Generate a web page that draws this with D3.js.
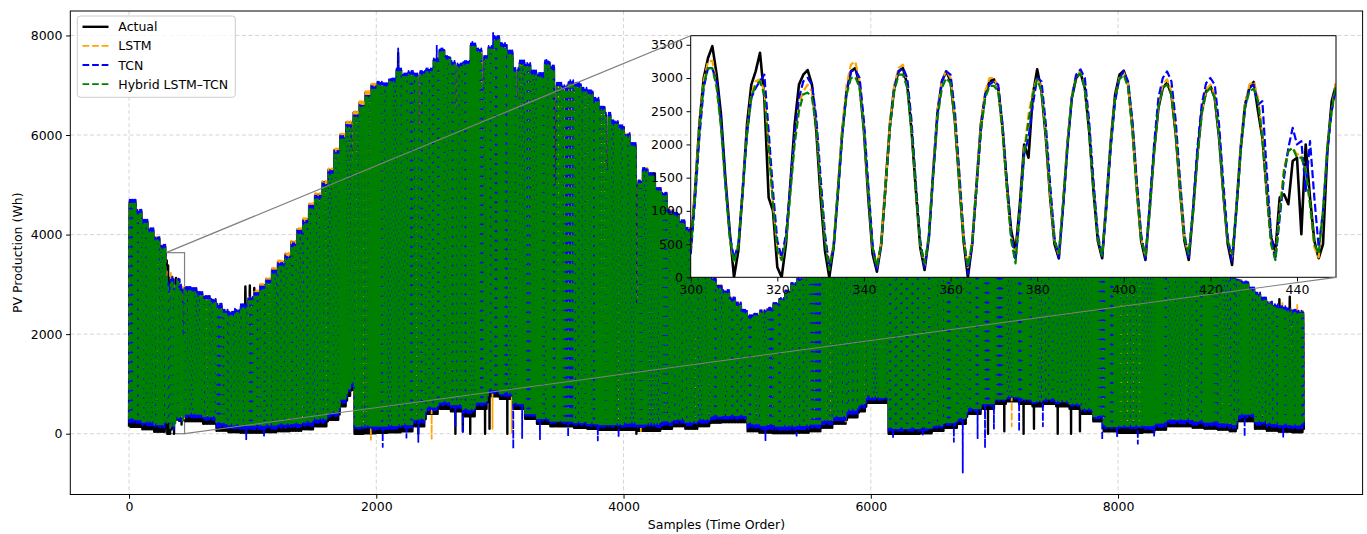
<!DOCTYPE html>
<html><head><meta charset="utf-8">
<script src="https://cdn.jsdelivr.net/npm/d3@7"></script>
<style>
body{margin:0;background:#fff}
svg{display:block}
text{font-family:"DejaVu Sans",sans-serif;fill:#000}
</style>
</head><body>
<svg id="c" width="1367" height="534"></svg>
<script>
// ---------------- DATA ----------------
const seriesNames = ["Actual", "LSTM", "TCN", "Hybrid LSTM\u2013TCN"];
const xTicks = [0, 2000, 4000, 6000, 8000];
const yTicks = [0, 2000, 4000, 6000, 8000];
const insetXTicks = [300, 320, 340, 360, 380, 400, 420, 440];
const insetYTicks = [0, 500, 1000, 1500, 2000, 2500, 3000, 3500];

const nSamples = 9504;
const dayLength = 12;
// normalised shape of one day
const dayShape = [0, 0.2, 0.5, 0.78, 0.95, 1.0, 0.96, 0.82, 0.6, 0.35, 0.13, 0.02];

// daily peak of Actual: [sample from which it holds, value]
const peakActualAt = [[0,4650],[50,4450],[100,4250],[150,4080],[200,3920],[250,3750],[300,3500],[350,3200],
 [400,2980],[450,2900],[500,2880],[550,2800],[600,2720],[650,2660],[700,2560],[750,2440],[800,2400],[850,2460],
 [900,2550],[950,2700],[1000,2850],[1050,2980],[1100,3100],[1150,3300],[1200,3450],[1250,3600],[1300,3850],
 [1350,4100],[1400,4300],[1450,4600],[1500,4800],[1550,5050],[1600,5300],[1650,5700],[1700,6000],[1750,6250],
 [1800,6450],[1850,6650],[1900,6850],[1950,7000],[2000,7030],[2050,7000],[2100,7100],[2150,7300],[2200,7200],
 [2250,7250],[2300,7200],[2350,7250],[2400,7300],[2450,7500],[2500,7700],[2550,7550],[2600,7450],[2650,7400],
 [2700,7450],[2750,7800],[2800,7700],[2850,7550],[2900,7750],[2950,7950],[3000,7800],[3050,7650],[3100,7300],
 [3150,7450],[3200,7400],[3250,7250],[3300,7200],[3350,7450],[3400,7350],[3450,7000],[3500,6950],[3550,7050],
 [3600,7000],[3650,6900],[3700,6850],[3750,6700],[3800,6550],[3850,6400],[3900,6250],[3950,6150],[4000,6000],
 [4050,5800],[4100,5050],[4150,5300],[4200,5200],[4250,4900],[4300,4800],[4350,4450],[4400,4400],[4450,4250],
 [4500,4100],[4550,3800],[4600,3450],[4650,3250],[4700,3100],[4750,2950],[4800,2850],[4850,2700],[4900,2600],
 [4950,2450],[5000,2350],[5050,2380],[5100,2450],[5150,2500],[5200,2600],[5250,2700],[5300,2850],[5350,3000],
 [5400,3100],[5450,3300],[5500,3500],[5600,4000],[5800,5000],[6000,6000],[6200,6700],[6400,7000],[6600,7200],
 [6800,7000],[7000,6800],[7200,6500],[7400,6100],[7600,5600],[7800,5000],[8000,4400],[8200,3900],[8400,3550],
 [8600,3350],[8700,3250],[8800,3200],[8850,3180],[8900,3120],[8950,3080],[9000,3020],[9050,2900],[9100,2800],
 [9150,2700],[9200,2620],[9250,2560],[9300,2520],[9350,2480],[9400,2450],[9450,2430],[9500,2420]];
// peak offsets of each model against Actual, by stretch of samples
const offS = [0, 1000, 2000, 3000, 4000, 5000, 6000, 7000, 8000, 9000];
const peakOffLSTM = [40, 30, -10, -20, 40, 30, 0, 0, 20, 30];
const peakOffTCN = [50, -20, 40, 50, 40, 30, 0, 0, 20, 40];
const peakOffHybrid = [-30, -90, -30, -40, -30, -20, -20, -20, -20, -20];

// daily trough of Actual: [sample from which it holds, value]
const lowActualAt = [[0,140],[100,90],[200,40],[300,10],[400,250],[500,250],[600,200],[700,60],[800,30],[900,20],
 [1000,20],[1100,30],[1200,50],[1300,60],[1400,90],[1500,150],[1600,280],[1700,550],[1760,760],[1790,880],
 [1815,0],[1900,10],[2000,20],[2100,30],[2200,50],[2300,150],[2400,400],[2500,500],[2600,450],[2700,350],
 [2800,500],[2900,750],[3000,700],[3100,500],[3200,300],[3300,200],[3400,150],[3500,150],[3600,120],[3700,100],
 [3800,80],[3900,80],[4000,80],[4100,60],[4200,60],[4300,100],[4400,150],[4500,100],[4600,150],[4700,220],
 [4800,230],[4900,230],[5000,50],[5100,20],[5200,10],[5300,10],[5400,20],[5500,50],[5600,120],[5700,200],
 [5800,330],[5900,450],[5960,620],[6135,0],[6400,10],[6500,60],[6600,120],[6700,200],[6780,400],[6900,500],
 [7000,600],[7100,650],[7200,600],[7300,550],[7400,600],[7500,550],[7600,500],[7700,400],[7800,250],[7880,50],
 [8000,20],[8200,30],[8300,80],[8400,150],[8600,120],[8700,100],[8800,80],[8900,50],[8960,250],[9100,100],
 [9200,60],[9300,40],[9400,30],[9500,20]];
// trough offsets of each model against Actual
const lowOffLSTM = [170, 170, 160, 120, 160, 170, 130, 120, 160, 170];
const lowOffTCN = [80, 70, 70, 60, 70, 70, 60, 60, 60, 80];
const lowOffHybrid = [150, 150, 140, 110, 140, 150, 110, 100, 140, 150];

// days with a clearly different peak: [sample, actual peak, predicted peak]
const cloudyDays = [[2340,5900,6200],[2650,6300,6500],[2860,6750,6900],[3135,6550,6700],
 [3445,4350,5000],[3865,4950,5300],[4105,5000,2600],[1810,5200,5600],[6140,5500,5200]];
// isolated high peaks: [sample, value]
const spikesActual = [[940,2960],[980,2980],[1010,2930],[2177,7650],[9310,2700],[9390,2750]];
const spikesLSTM = [[9330,2650],[9450,2600]];
const spikesTCN = [[2177,7740],[2492,7810],[2772,7870],[2945,8050],[3160,7500],[3375,7510]];
// isolated low troughs: [sample, value]
const dipsActual = [[2350,0],[2640,0],[2700,50],[2760,0],[2880,0],[2920,100],[3060,0],[4105,0],
 [6950,0],[7080,50],[7240,0],[7330,100],[7520,0],[7620,0],[7700,50]];
const dipsLSTM = [[1965,-120],[2450,-100],[2950,100],[3100,0],[4150,50],[5800,200],[7150,150]];
const dipsTCN = [[954,-110],[1100,-40],[2055,-265],[2250,-80],[2340,-165],[2650,150],[2700,0],[3115,-300],
 [3190,-100],[3333,-110],[3560,-60],[3800,-135],[3960,-80],[5150,-130],[5400,-40],[6190,-90],[6420,-60],
 [6680,-164],[6747,-780],[6875,-90],[6925,-290],[7000,100],[7200,50],[7400,150],[7880,-130],[8000,-50],
 [8165,-200],[8300,-40],[9027,-60],[9340,-60]];

// zoomed window, samples 300..449
const insetStart = 300;
const insetActual = [450,1300,2300,3000,3300,3480,3050,2450,1500,700,0,
 400,1300,2300,2900,3100,3380,2700,1200,1000,150,0,
 500,1400,2300,2900,3050,3120,2900,2200,1200,400,0,
 450,1300,2200,2800,3100,3150,2900,2200,1200,350,85,
 500,1400,2300,2850,3100,3150,2900,2200,1300,450,110,
 600,1600,2500,2950,3100,2950,2350,1450,550,0,
 500,1400,2300,2750,2950,2980,2850,2250,1400,700,390,
 1100,2000,1800,2750,3130,2800,2100,1200,500,286,
 1100,2000,2700,3000,3080,2850,2200,1300,550,286,
 1150,2050,2750,3050,3110,2900,2250,1350,550,261,
 1050,1900,2550,2850,2930,2750,2150,1300,550,261,
 1000,1850,2500,2800,2880,2700,2100,1250,500,186,
 1050,1950,2600,2850,2940,2500,2100,1300,600,385,
 1200,1250,1100,1750,1800,650,2000,1200,550,286,500,1900,2650,2900];
const insetLSTM = [400,1250,2250,2950,3250,3260,2900,2250,1400,600,250,
 500,1350,2200,2750,2950,2980,2800,2000,1100,450,250,
 600,1300,2100,2600,2800,2900,2800,2300,1400,600,200,
 500,1350,2250,2900,3200,3250,2950,2250,1300,450,150,
 550,1400,2300,2900,3150,3200,2950,2250,1350,500,180,
 650,1600,2500,2950,3120,3000,2400,1500,600,150,
 550,1400,2250,2800,3000,3000,2850,2200,1350,600,300,
 1000,1900,2450,2800,3000,2850,2150,1250,550,330,
 1150,2050,2750,3050,3100,2900,2250,1350,600,330,
 1100,2000,2700,3000,3080,2900,2250,1350,600,320,
 1050,1950,2600,2900,2980,2800,2200,1350,600,320,
 1000,1850,2500,2820,2900,2750,2150,1300,550,300,
 1050,1950,2600,2900,2950,2700,2150,1300,550,280,
 1000,1650,1900,1950,1850,1850,1600,1100,450,300,1000,2000,2500,2950];
const insetTCN = [350,1150,2100,2850,3150,3140,2950,2350,1450,650,280,
 500,1300,2150,2700,2850,2950,3050,2200,1300,550,300,
 650,1350,2150,2700,2950,3000,2900,2400,1500,650,150,
 450,1250,2150,2800,3100,3120,3000,2350,1400,500,120,
 500,1350,2250,2850,3100,3150,3000,2350,1400,550,150,
 600,1550,2450,2950,3100,3050,2500,1600,650,50,
 500,1350,2200,2750,2900,2950,2900,2300,1450,650,250,
 950,1850,2100,2600,3000,2950,2300,1400,600,300,
 1050,1950,2700,3050,3130,3000,2350,1450,650,300,
 1050,1950,2650,3000,3100,2950,2350,1450,650,280,
 1100,2000,2700,3000,3100,2950,2350,1450,650,280,
 1050,1950,2600,2920,3000,2900,2300,1400,600,250,
 1000,1900,2550,2850,2900,2600,2650,1600,650,260,
 900,1500,1950,2250,2000,2050,1300,2050,1200,450,1000,1900,2500,2850];
const insetHybrid = [420,1200,2200,2900,3150,3150,2850,2250,1400,600,220,
 480,1300,2150,2700,2900,2950,2750,1950,1100,400,260,
 550,1250,2000,2500,2750,2780,2700,2250,1350,550,110,
 480,1300,2150,2750,3000,3020,2850,2200,1300,450,160,
 520,1350,2250,2800,3050,3050,2850,2200,1300,500,210,
 620,1550,2400,2850,3000,2920,2350,1450,560,160,
 520,1350,2200,2700,2880,2880,2800,2200,1350,550,210,
 1000,1850,2350,2750,2980,2800,2150,1250,550,360,
 1100,2000,2700,3000,3070,2850,2200,1300,600,330,
 1100,2000,2700,2980,3050,2850,2200,1300,580,330,
 1000,1900,2550,2850,2900,2750,2150,1300,580,350,
 980,1800,2450,2780,2850,2700,2100,1250,550,360,
 1000,1900,2550,2800,2840,2650,2100,1250,500,260,
 950,1600,1900,1950,1800,1800,1600,1100,500,350,1000,1950,2500,2900];

// ---------------- BUILD SERIES ----------------
const peakOffs = [null, peakOffLSTM, peakOffTCN, peakOffHybrid];
const lowOffs = [null, lowOffLSTM, lowOffTCN, lowOffHybrid];
const insets = [insetActual, insetLSTM, insetTCN, insetHybrid];
const spikes = [spikesActual, spikesLSTM, spikesTCN, []];
const dips = [dipsActual, dipsLSTM, dipsTCN, []];
const colors = ["#000000", "#ffa500", "#0000ff", "#008000"];

const peakS = peakActualAt.map(p => p[0]), peakV = peakActualAt.map(p => p[1]);
const lowS = lowActualAt.map(p => p[0]), lowV = lowActualAt.map(p => p[1]);
function stepVal(bp, vals, s) {
  const i = d3.bisectRight(bp, s) - 1;
  return vals[Math.max(0, i)];
}
const dayOf = s => Math.floor(s / dayLength);
const cloudyMap = new Map(cloudyDays.map(c => [dayOf(c[0]), c]));

const series = insets.map((ins, j) => {
  const arr = new Array(nSamples);
  const spikeMap = new Map(spikes[j].map(p => [dayOf(p[0]), p[1]]));
  for (let d = 0; d * dayLength < nSamples; d++) {
    const s0 = d * dayLength;
    let peak = stepVal(peakS, peakV, s0);
    let low = stepVal(lowS, lowV, s0);
    if (j > 0) {
      peak += stepVal(offS, peakOffs[j], s0);
      low += stepVal(offS, lowOffs[j], s0);
    }
    if (cloudyMap.has(d)) peak = j === 0 ? cloudyMap.get(d)[1] : cloudyMap.get(d)[2];
    if (spikeMap.has(d)) peak = spikeMap.get(d);
    for (let k = 0; k < dayLength && s0 + k < nSamples; k++) {
      arr[s0 + k] = low + (peak - low) * dayShape[k];
    }
  }
  dips[j].forEach(p => { arr[dayOf(p[0]) * dayLength] = p[1]; });
  ins.forEach((v, i) => { arr[insetStart + i] = v; });
  return arr;
});

// ---------------- LAYOUT ----------------
const svg = d3.select("#c");
const fs = 12.5;
const box = {x0: 70.3, x1: 1362.6, y0: 11, y1: 494.5};
const ibox = {x0: 690.7, x1: 1336, y0: 35.7, y1: 277.3};
const tickLen = 4.2, tickPad = 3.6;

const xMax = nSamples - 1, xPad = 0.05 * xMax;
const x = d3.scaleLinear().domain([-xPad, xMax + xPad]).range([box.x0, box.x1]);
const [vMin, vMax] = d3.extent(series.flat());
const yPad = 0.05 * (vMax - vMin);
const y = d3.scaleLinear().domain([vMin - yPad, vMax + yPad]).range([box.y1, box.y0]);

const insetEnd = insetStart + insetActual.length - 1;
const xi = d3.scaleLinear().domain([insetStart, insetEnd]).range([ibox.x0, ibox.x1]);
const insetTop = d3.max(insets.flat()) * 1.045;
const yi = d3.scaleLinear().domain([0, insetTop]).range([ibox.y1, ibox.y0]);

const defs = svg.append("defs");
defs.append("clipPath").attr("id", "clipMain").append("rect")
  .attr("x", box.x0).attr("y", box.y0).attr("width", box.x1 - box.x0).attr("height", box.y1 - box.y0);
defs.append("clipPath").attr("id", "clipInset").append("rect")
  .attr("x", ibox.x0).attr("y", ibox.y0).attr("width", ibox.x1 - ibox.x0).attr("height", ibox.y1 - ibox.y0);

// grid
const grid = svg.append("g").attr("stroke", "#b0b0b0").attr("stroke-opacity", 0.6)
  .attr("stroke-width", 0.9).attr("stroke-dasharray", "4,2.6");
xTicks.forEach(t => grid.append("line").attr("x1", x(t)).attr("x2", x(t)).attr("y1", box.y0).attr("y2", box.y1));
yTicks.forEach(t => grid.append("line").attr("y1", y(t)).attr("y2", y(t)).attr("x1", box.x0).attr("x2", box.x1));

// zoom rectangle (under the lines)
svg.append("rect").attr("x", x(insetStart)).attr("y", y(insetTop))
  .attr("width", x(insetEnd) - x(insetStart)).attr("height", y(0) - y(insetTop))
  .attr("fill", "none").attr("stroke", "#808080").attr("stroke-width", 1.2);

// main lines
const gMain = svg.append("g").attr("clip-path", "url(#clipMain)");
const lineMain = d3.line().x((d, i) => x(i)).y(d => y(d));
series.forEach((s, j) => {
  gMain.append("path").attr("d", lineMain(s)).attr("fill", "none")
    .attr("stroke", colors[j]).attr("stroke-width", j === 0 ? 2.4 : 1.8)
    .attr("stroke-linejoin", "round")
    .attr("stroke-dasharray", j === 0 ? null : "6.7,2.9");
});

// main spines & axes
svg.append("rect").attr("x", box.x0).attr("y", box.y0).attr("width", box.x1 - box.x0)
  .attr("height", box.y1 - box.y0).attr("fill", "none").attr("stroke", "#000").attr("stroke-width", 1);
const styleAxis = a => {
  a.select(".domain").remove();
  a.selectAll("text").attr("font-size", fs).attr("font-family", "DejaVu Sans").attr("fill", "#000");
  a.selectAll("line").attr("stroke", "#000");
};
svg.append("g").attr("transform", `translate(0,${box.y1})`)
  .call(d3.axisBottom(x).tickValues(xTicks).tickFormat(d3.format("d")).tickSize(tickLen).tickPadding(tickPad))
  .call(styleAxis);
svg.append("g").attr("transform", `translate(${box.x0},0)`)
  .call(d3.axisLeft(y).tickValues(yTicks).tickFormat(d3.format("d")).tickSize(tickLen).tickPadding(tickPad))
  .call(styleAxis);
svg.append("text").attr("x", (box.x0 + box.x1) / 2).attr("y", 528.5).attr("text-anchor", "middle")
  .attr("font-size", fs).text("Samples (Time Order)");
svg.append("text").attr("transform", `translate(17,${(box.y0 + box.y1) / 2}) rotate(-90)`)
  .attr("text-anchor", "middle").attr("dominant-baseline", "central").attr("font-size", fs)
  .text("PV Production (Wh)");

// legend
const lg = svg.append("g");
lg.append("rect").attr("x", 77.3).attr("y", 16).attr("width", 158).attr("height", 81.3).attr("rx", 3)
  .attr("fill", "#fff").attr("fill-opacity", 0.8).attr("stroke", "#cccccc").attr("stroke-width", 1);
seriesNames.forEach((name, j) => {
  const ly = 26.8 + j * 19.1;
  lg.append("line").attr("x1", 82.5).attr("x2", 108.5).attr("y1", ly).attr("y2", ly)
    .attr("stroke", colors[j]).attr("stroke-width", j === 0 ? 2.4 : 1.8)
    .attr("stroke-dasharray", j === 0 ? null : "6.7,2.9");
  lg.append("text").attr("x", 118.3).attr("y", ly).attr("dominant-baseline", "central")
    .attr("font-size", fs).text(name);
});

// inset
svg.append("rect").attr("x", ibox.x0).attr("y", ibox.y0).attr("width", ibox.x1 - ibox.x0)
  .attr("height", ibox.y1 - ibox.y0).attr("fill", "#fff");
const gIn = svg.append("g").attr("clip-path", "url(#clipInset)");
const xsIn = d3.range(insetStart, insetEnd + 1);
const lineIn = d3.line().x((d, i) => xi(xsIn[i])).y(d => yi(d));
series.forEach((s, j) => {
  gIn.append("path").attr("d", lineIn(s.slice(insetStart, insetEnd + 1))).attr("fill", "none")
    .attr("stroke", colors[j]).attr("stroke-width", j === 0 ? 2.6 : 2.2)
    .attr("stroke-linejoin", "round")
    .attr("stroke-dasharray", j === 0 ? null : "8,3.3");
});
svg.append("rect").attr("x", ibox.x0).attr("y", ibox.y0).attr("width", ibox.x1 - ibox.x0)
  .attr("height", ibox.y1 - ibox.y0).attr("fill", "none").attr("stroke", "#000").attr("stroke-width", 1);
svg.append("g").attr("transform", `translate(0,${ibox.y1})`)
  .call(d3.axisBottom(xi).tickValues(insetXTicks).tickFormat(d3.format("d")).tickSize(tickLen).tickPadding(tickPad))
  .call(styleAxis);
svg.append("g").attr("transform", `translate(${ibox.x0},0)`)
  .call(d3.axisLeft(yi).tickValues(insetYTicks).tickFormat(d3.format("d")).tickSize(tickLen).tickPadding(tickPad))
  .call(styleAxis);

// connectors (belong to the inset, drawn on top)
svg.append("line").attr("x1", x(insetStart)).attr("y1", y(insetTop)).attr("x2", ibox.x0).attr("y2", ibox.y0)
  .attr("stroke", "#808080").attr("stroke-width", 1.2);
svg.append("line").attr("x1", x(insetEnd)).attr("y1", y(0)).attr("x2", ibox.x1).attr("y2", ibox.y1)
  .attr("stroke", "#808080").attr("stroke-width", 1.2);
</script>
</body></html>
